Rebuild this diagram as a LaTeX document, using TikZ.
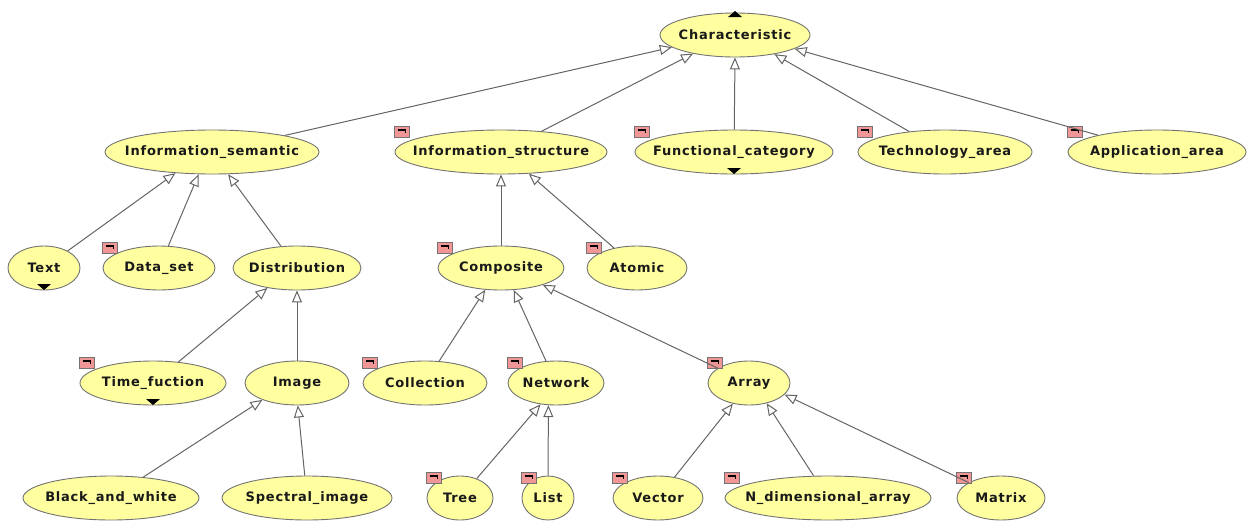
\documentclass[tikz,border=0pt]{standalone}
\usepackage{fontspec}
\setmainfont{DejaVu Sans}
\newfontfamily\classfont[LetterSpace=6]{DejaVu Sans}
\usetikzlibrary{shapes.geometric,arrows.meta}
\definecolor{nodefill}{RGB}{255,255,160}
\definecolor{nodeline}{RGB}{115,115,115}
\definecolor{edgeline}{RGB}{100,100,100}
\definecolor{markfill}{RGB}{240,150,150}
\definecolor{labeltext}{RGB}{25,25,25}

\tikzset{
  cls/.style={ellipse, draw=nodeline, fill=nodefill, line width=0.9pt,
    minimum height=44pt, inner sep=0pt,
    label={[font=\classfont\bfseries\fontsize{13}{15}\selectfont, text=labeltext]center:#1}},
  isa/.style={draw=edgeline, line width=1pt,
    -{Triangle[length=12pt, width=10pt, fill=white]}},
  markbox/.style={draw=nodeline, fill=markfill, line width=0.6pt},
  marktick/.style={draw=black, line width=1.3pt},
  collapse/.style={fill=black}
}

% pink marker at the upper left of a class ellipse
\newcommand{\classmark}[1]{%
  \draw[markbox] ([yshift=26pt]#1.west) rectangle ++(15,11);
  \draw[marktick] ([xshift=3pt,yshift=22pt]#1.west) -- ++(8,0) -- ++(0,3);
}
% black triangle below a class ellipse
\newcommand{\downmark}[1]{%
  \fill[collapse] ([xshift=-7pt,yshift=-16pt]#1.center) -- ++(14,0) -- ++(-7,6) -- cycle;
}

\begin{document}
\begin{tikzpicture}[x=1pt, y=-1pt]
\useasboundingbox (0,0) rectangle (1250,525);

% level 0
\node[cls=Characteristic, minimum width=150pt] (char) at (735,35) {};
% level 1
\node[cls=Information\_semantic,  minimum width=214pt] (isem) at (212,152) {};
\node[cls=Information\_structure, minimum width=212pt] (istr) at (501,152) {};
\node[cls=Functional\_category,   minimum width=198pt] (func) at (734,152) {};
\node[cls=Technology\_area,       minimum width=174pt] (tech) at (945,152) {};
\node[cls=Application\_area,      minimum width=178pt] (appl) at (1157,152) {};
% level 2
\node[cls=Text,         minimum width=72pt]  (text) at (44,268) {};
\node[cls=Data\_set,    minimum width=112pt] (dset) at (159,268) {};
\node[cls=Distribution, minimum width=128pt] (dist) at (297,268) {};
\node[cls=Composite,    minimum width=126pt] (comp) at (501,268) {};
\node[cls=Atomic,       minimum width=100pt] (atom) at (637,268) {};
% level 3
\node[cls=Time\_fuction, minimum width=146pt] (time) at (153,383) {};
\node[cls=Image,         minimum width=104pt] (imag) at (297,383) {};
\node[cls=Collection,    minimum width=124pt] (coll) at (425,383) {};
\node[cls=Network,       minimum width=96pt]  (netw) at (556,383) {};
\node[cls=Array,         minimum width=82pt]  (arr)  at (749,383) {};
% level 4
\node[cls=Black\_and\_white,     minimum width=176pt] (bw)   at (111,498) {};
\node[cls=Spectral\_image,       minimum width=170pt] (spec) at (307,498) {};
\node[cls=Tree,                  minimum width=66pt]  (tree) at (460,498) {};
\node[cls=List,                  minimum width=52pt]  (list) at (548,498) {};
\node[cls=Vector,                minimum width=90pt]  (vect) at (658,498) {};
\node[cls=N\_dimensional\_array, minimum width=206pt] (ndim) at (828,498) {};
\node[cls=Matrix,                minimum width=88pt]  (matr) at (1001,498) {};

% markers
\foreach \n in {istr,func,tech,appl,dset,comp,atom,time,coll,netw,arr,tree,list,vect,ndim,matr}
  {\classmark{\n}}
\fill[collapse] ([xshift=-7pt,yshift=18pt]char.center) -- ++(14,0) -- ++(-7,-6) -- cycle;
\downmark{text}
\downmark{time}
\downmark{func}

% generalisation links
\draw[isa] (isem) -- (char.191.7);
\draw[isa] (istr) -- (char.204.9);
\draw[isa] (func) -- (char.270);
\draw[isa] (tech) -- (char.334);
\draw[isa] (appl) -- (char.347);

\draw[isa] (text) -- (isem.210);
\draw[isa] (dset) -- (isem.239);
\draw[isa] (dist) -- (isem.306);

\draw[isa] (comp) -- (istr.270);
\draw[isa] (atom) -- (istr.322);

\draw[isa] (time) -- (dist.214);
\draw[isa] (imag) -- (dist.270);

\draw[isa] (coll) -- (comp.234);
\draw[isa] (netw) -- (comp.300);
\draw[isa] (arr)  -- (comp.338);

\draw[isa] (bw)   -- (imag.206);
\draw[isa] (spec) -- (imag.272);

\draw[isa] (tree) -- (netw.234);
\draw[isa] (list) -- (netw.251);

\draw[isa] (vect) -- (arr.232);
\draw[isa] (ndim) -- (arr.311);
\draw[isa] (matr) -- (arr.342);
\end{tikzpicture}
\end{document}
